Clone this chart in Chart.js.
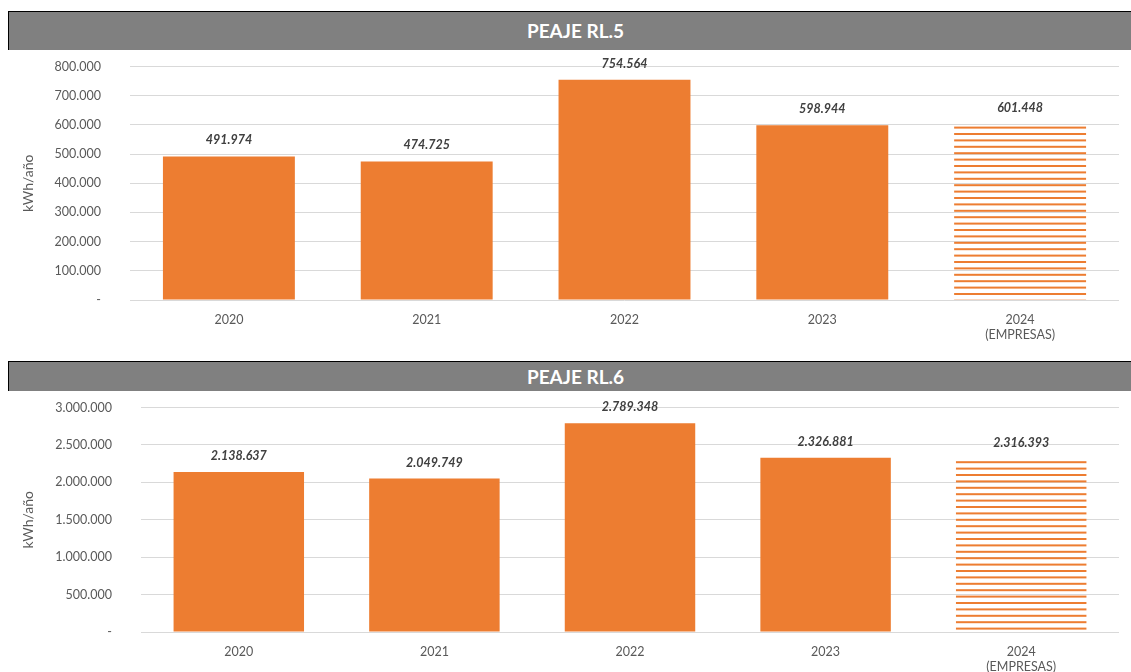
<!DOCTYPE html>
<html>
<head>
<meta charset="utf-8">
<script src="https://cdn.jsdelivr.net/npm/chart.js@4/dist/chart.umd.min.js"></script>
<style>
    html, body { margin: 0; padding: 0; background: #fff; }
    body { width: 1131px; height: 672px; overflow: hidden; position: relative; font-family: Lato, sans-serif; }
    .hdr {
        position: absolute; left: 8px; width: 1123px; height: 38px;
        background: #808080; border-top: 1px solid #000; border-left: 1px solid #000;
        color: #fff; font: bold 19px Lato, sans-serif; line-height: 38px;
        box-sizing: content-box; text-indent: 10px; text-align: center;
    }
    .box { position: absolute; left: 0; width: 1131px; }
</style>
</head>
<body>
<div class="hdr" style="top:11px">PEAJE RL.5</div>
<div class="hdr" style="top:361px;height:29px;line-height:29px">PEAJE RL.6</div>
<div class="box" style="top:30px;height:320px"><canvas id="rl5"></canvas></div>
<div class="box" style="top:371px;height:311px"><canvas id="rl6"></canvas></div>
<script>
'use strict';

// ── Data ─────────────────────────────────────────────────────────────────
const years   = ['2020', '2021', '2022', '2023', ['2024', '(EMPRESAS)']];
const rl5Vals = [491974, 474725, 754564, 598944, 601448];
const rl6Vals = [2138637, 2049749, 2789348, 2326881, 2316393];
const rl5Max = 800000, rl5Step = 100000;
const rl6Max = 3000000, rl6Step = 500000;

const ORANGE = '#ED7D31';
const TXT = '#595959';

function fmt(v) {
    if (v === 0) return '-';
    return Math.round(v).toString().replace(/\B(?=(\d{3})+(?!\d))/g, '.');
}

// horizontal-line hatch for the 2024 estimate
function hatch() {
    const c = document.createElement('canvas');
    c.width = 8; c.height = 32;
    const g = c.getContext('2d');
    g.fillStyle = ORANGE;
    for (let i = 0; i < 5; i++) g.fillRect(0, 0.6 + i * 6.4, 8, 2);
    return g.createPattern(c, 'repeat');
}

// value labels above bars
const valueLabels = {
    id: 'valueLabels',
    afterDatasetsDraw(chart) {
        const ctx = chart.ctx;
        const meta = chart.getDatasetMeta(0);
        const data = chart.data.datasets[0].data;
        ctx.save();
        ctx.font = 'italic bold 12.5px Lato, sans-serif';
        ctx.fillStyle = '#404040';
        ctx.textAlign = 'center';
        ctx.textBaseline = 'middle';
        meta.data.forEach((bar, i) => ctx.fillText(fmt(data[i]), bar.x, bar.y - 16));
        ctx.restore();
    }
};

function makeBarChart(id, values, max, step, axisW) {
    const colors = values.map((_, i) => i === values.length - 1 ? hatch() : ORANGE);
    return new Chart(document.getElementById(id).getContext('2d'), {
        type: 'bar',
        data: {
            labels: years,
            datasets: [{ data: values, backgroundColor: colors, borderWidth: 0,
                         categoryPercentage: 1, barPercentage: 0.667 }]
        },
        options: {
            animation: false, responsive: true, maintainAspectRatio: false,
            layout: { padding: { top: 16, right: 12, left: 16, bottom: 0 } },
            plugins: { legend: { display: false }, tooltip: { enabled: false } },
            scales: {
                x: {
                    grid: { display: false, drawTicks: false },
                    border: { display: false },
                    ticks: { color: TXT, padding: 12, font: { family: 'Lato', size: 12.5 } },
                    afterFit(s) { s.height = 50; }
                },
                y: {
                    min: 0, max: max,
                    ticks: { stepSize: step, color: TXT, padding: 29,
                             font: { family: 'Lato', size: 12.5 }, callback: v => fmt(v) },
                    grid: { color: '#D9D9D9', drawTicks: false, lineWidth: 1 },
                    border: { display: false },
                    title: { display: true, text: 'kWh/año', color: TXT, padding: 4,
                             font: { family: 'Lato', size: 14 } },
                    afterFit(s) { s.width = axisW; }
                }
            }
        },
        plugins: [valueLabels]
    });
}

makeBarChart('rl5', rl5Vals, rl5Max, rl5Step, 114);
makeBarChart('rl6', rl6Vals, rl6Max, rl6Step, 125);
</script>
</body>
</html>
